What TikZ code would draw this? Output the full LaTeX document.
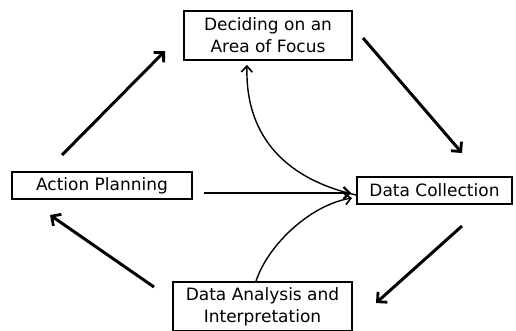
\documentclass[tikz,border=0pt]{standalone}
\usepackage{fontspec}
\setmainfont{DejaVu Sans}
\usetikzlibrary{arrows.meta}
\begin{document}
\begin{tikzpicture}[x=1pt,y=-1pt,
        stage/.style={draw,line width=1.8pt,align=center,inner sep=0pt,
            font=\fontsize{17}{22}\selectfont},
        bigarrow/.style={line width=3pt,-{Straight Barb[length=7pt,width=14pt,line width=2.8pt]}},
        midarrow/.style={line width=2.4pt,-{Straight Barb[length=6pt,width=12pt,line width=2.2pt]}},
        thinarrow/.style={line width=1.4pt,-{Straight Barb[length=6pt,width=11pt,line width=1.6pt]}}]
        \useasboundingbox (0,0) rectangle (516,331);

        \node[stage,minimum width=168pt,minimum height=49pt] (focus) at (268,35.5) {Deciding on an\\Area of Focus};
        \node[stage,minimum width=155pt,minimum height=27pt] (collect) at (434.5,190.5) {Data Collection};
        \node[stage,minimum width=180pt,minimum height=27pt] (plan) at (102,185.5) {Action Planning};
        \node[stage,minimum width=179pt,minimum height=49pt] (analysis) at (262.5,306.5) {Data Analysis and\\Interpretation};

        \coordinate (a1s) at (62,155);  \coordinate (a1e) at (165,51);
        \coordinate (a2s) at (363,38);  \coordinate (a2e) at (462,153);
        \coordinate (a3s) at (462,226); \coordinate (a3e) at (376,303);
        \coordinate (a4s) at (154,287); \coordinate (a4e) at (50,215);

        \draw[bigarrow] (a1s) -- (a1e);
        \draw[bigarrow] (a2s) -- (a2e);
        \draw[bigarrow] (a3s) -- (a3e);
        \draw[bigarrow] (a4s) -- (a4e);

        \draw[midarrow] ([shift={(11,7.5)}]plan.east) -- ([shift={(-5,2.5)}]collect.west);
        \draw[thinarrow] ([yshift=-4.5]collect.west) .. controls (290,180) and (245,140) .. ([shift={(-21,4)}]focus.south);
        \draw[thinarrow] ([xshift=-6.5]analysis.north) .. controls (268,245) and (310,205) .. ([shift={(-4,7.5)}]collect.west);
    \end{tikzpicture}
\end{document}
